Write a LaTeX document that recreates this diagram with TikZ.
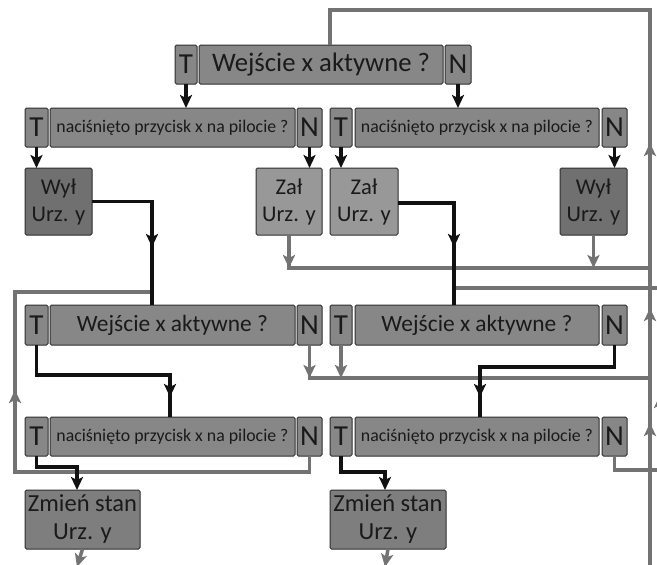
\documentclass[tikz,border=0pt]{standalone}
\usepackage{fontspec}
\setmainfont{Carlito}
\usetikzlibrary{arrows.meta}
\definecolor{boxfill}{HTML}{878787}
\definecolor{wylfill}{HTML}{707070}
\definecolor{zalfill}{HTML}{989898}
\definecolor{zmfill}{HTML}{7E7E7E}
\definecolor{boxline}{HTML}{2E2E2E}
\definecolor{txt}{HTML}{1A1A1A}
\definecolor{grayline}{HTML}{737373}
\definecolor{blackline}{HTML}{111111}
\tikzset{
  box/.style={draw=boxline, line width=1pt, rounded corners=1.5pt, inner sep=0pt, outer sep=0pt,
    anchor=north west, text=txt, align=center, fill=boxfill},
  tn/.style={box, minimum height=39pt, font=\fontsize{29}{29}\selectfont},
  q1/.style={box, minimum height=39pt, font=\fontsize{26.7}{27}\selectfont},
  q2/.style={box, minimum height=40pt, font=\fontsize{23.4}{24}\selectfont},
  qp/.style={box, minimum height=39pt, font=\fontsize{17.8}{18}\selectfont},
  act/.style={box, minimum height=67pt, font=\fontsize{22.5}{27}\selectfont},
  zm/.style={box, minimum height=59pt, fill=zmfill, font=\fontsize{24.5}{28}\selectfont},
  arr/.tip={Stealth[length=13pt,width=12pt,inset=3pt]},
  blk/.style={draw=blackline, line width=3.5pt},
  gry/.style={draw=grayline, line width=3.5pt},
}
\begin{document}
\begin{tikzpicture}[x=1pt,y=-1pt]
\useasboundingbox[fill=white] (0,0) rectangle (657,565);

% top row
\node[tn, minimum width=22pt] (Tt) at (175,45) {T};
\node[q1, minimum width=244pt] (Mt) at (199,45) {Wejście x aktywne ?};
\node[tn, minimum width=26pt] (Nt) at (445,45) {N};

% row 2
\node[tn, minimum width=23pt] (T2L) at (25,108) {T};
\node[qp, minimum width=245pt] (M2L) at (50,108) {naciśnięto przycisk x na pilocie ?};
\node[tn, minimum width=25pt] (N2L) at (297,108) {N};
\node[tn, minimum width=22pt] (T2R) at (330,108) {T};
\node[qp, minimum width=244pt] (M2R) at (355,108) {naciśnięto przycisk x na pilocie ?};
\node[tn, minimum width=25pt] (N2R) at (602,108) {N};

% row 3
\node[act, minimum width=67pt, fill=wylfill] (WylL) at (25,168) {Wył\\Urz. y};
\node[act, minimum width=66pt, fill=zalfill] (ZalL) at (256,168) {Zał\\Urz. y};
\node[act, minimum width=68pt, fill=zalfill] (ZalR) at (330,168) {Zał\\Urz. y};
\node[act, minimum width=67pt, fill=wylfill] (WylR) at (560,168) {Wył\\Urz. y};

% row 4
\node[tn, minimum height=40pt, minimum width=23pt] (T4L) at (25,305) {T};
\node[q2, minimum width=245pt] (M4L) at (50,305) {Wejście x aktywne ?};
\node[tn, minimum height=40pt, minimum width=25pt] (N4L) at (297,305) {N};
\node[tn, minimum height=40pt, minimum width=22pt] (T4R) at (330,305) {T};
\node[q2, minimum width=244pt] (M4R) at (355,305) {Wejście x aktywne ?};
\node[tn, minimum height=40pt, minimum width=25pt] (N4R) at (602,305) {N};

% row 5
\node[tn, minimum width=23pt] (T5L) at (25,417) {T};
\node[qp, minimum width=245pt] (M5L) at (50,417) {naciśnięto przycisk x na pilocie ?};
\node[tn, minimum width=25pt] (N5L) at (297,417) {N};
\node[tn, minimum width=22pt] (T5R) at (330,417) {T};
\node[qp, minimum width=244pt] (M5R) at (355,417) {naciśnięto przycisk x na pilocie ?};
\node[tn, minimum width=25pt] (N5R) at (602,417) {N};

% row 6
\node[zm, minimum width=115pt] (ZmL) at (25,490) {Zmień stan\\Urz. y};
\node[zm, minimum width=116pt] (ZmR) at (330,490) {Zmień stan\\Urz. y};

% coordinates
\coordinate (gTop) at (330,10);
\coordinate (gR) at (650,10);
\coordinate (gRb) at (650,566);
\coordinate (gA1) at (650,143);
\coordinate (gA2) at (650,308);
\coordinate (gA3) at (650,423);
\coordinate (gL1) at (15,292);
\coordinate (gLa) at (15,390);
\coordinate (gL2) at (15,472);
\coordinate (b4k) at (152,201.5);
\coordinate (b4a) at (152,247);
\coordinate (b5k) at (454,203);
\coordinate (b5a) at (454,247);
\coordinate (b6k) at (170,375);
\coordinate (b6a) at (170,397);
\coordinate (b7k) at (480,367);
\coordinate (b7a) at (480,397);
\coordinate (b8k) at (77,467);
\coordinate (b9k) at (385,472);
\coordinate (g2) at (650,268);
\coordinate (g3a) at (454,288);
\coordinate (g3b) at (662,288);
\coordinate (g4) at (650,378);
\coordinate (g6) at (662,470);
\coordinate (gX1) at (660,566);
\coordinate (gX2) at (660,395);
\coordinate (gX3) at (660,288);
\coordinate (bottomL) at (77,567);
\coordinate (bottomR) at (385,567);

% gray connectors
\draw[gry,-arr] (gRb) -- (gA3);
\draw[gry,-arr] ([yshift=-7pt]gA3) -- (gA2);
\draw[gry,-arr] ([yshift=-7pt]gA2) -- (gA1);
\draw[gry] ([yshift=-7pt]gA1) -- (gR) -- (gTop) -- (gTop |- Mt.north);
\draw[gry,-arr] (gX1) -- (gX2);
\draw[gry] ([yshift=-7pt]gX2) -- (gX3);

\draw[gry,-arr] (ZalL.south) -- (ZalL.south |- g2);
\draw[gry] ([yshift=5pt]ZalL.south |- g2) |- (g2);
\draw[gry,-arr] (WylR.south) -- (WylR.south |- g2);
\draw[gry] (g3a) -- (g3b);

\draw[gry,-arr] (N4L.south) -- (N4L.south |- g4);
\draw[gry,-arr] (T4R.south) -- (T4R.south |- g4);
\draw[gry] ([yshift=5pt]N4L.south |- g4) |- (g4);

\draw[gry,-arr] (N5L.south) |- (gL2) -- (gLa);
\draw[gry] ([yshift=-7pt]gLa) -- (gL1) -- (b4a |- gL1);

\draw[gry] (N5R.south) |- (g6);

\draw[gry,-arr] (ZmL.south) -- (bottomL);
\draw[gry,-arr] (ZmR.south) -- (bottomR);

% black connectors
\draw[blk,-arr] (Tt.south) -- (Tt.south |- M2L.north);
\draw[blk,-arr] (Nt.south) -- (Nt.south |- M2R.north);
\draw[blk,-arr] (T2L.south) -- (T2L.south |- WylL.north);
\draw[blk,-arr] (N2L.south) -- (N2L.south |- ZalL.north);
\draw[blk,-arr] (T2R.south) -- (T2R.south |- ZalR.north);
\draw[blk,-arr] (N2R.south) -- (N2R.south |- WylR.north);

\draw[blk,-arr] (WylL.east) -- (b4k) -- (b4a);
\draw[blk] ([yshift=7pt]b4a) -- (b4a |- M4L.north);
\draw[blk,-arr] (ZalR.east |- b5k) -- (b5k) -- (b5a);
\draw[blk] ([yshift=7pt]b5a) -- (b5a |- M4R.north);

\draw[blk,-arr] (T4L.south) |- (b6k) -- (b6a);
\draw[blk] ([yshift=7pt]b6a) -- (b6a |- M5L.north);
\draw[blk,-arr] (N4R.south) |- (b7k) -- (b7a);
\draw[blk] ([yshift=7pt]b7a) -- (b7a |- M5R.north);

\draw[blk,-arr] (T5L.south) |- (b8k) -- (b8k |- ZmL.north);
\draw[blk,-arr] (T5R.south) |- (b9k) -- (b9k |- ZmR.north);
\end{tikzpicture}
\end{document}
